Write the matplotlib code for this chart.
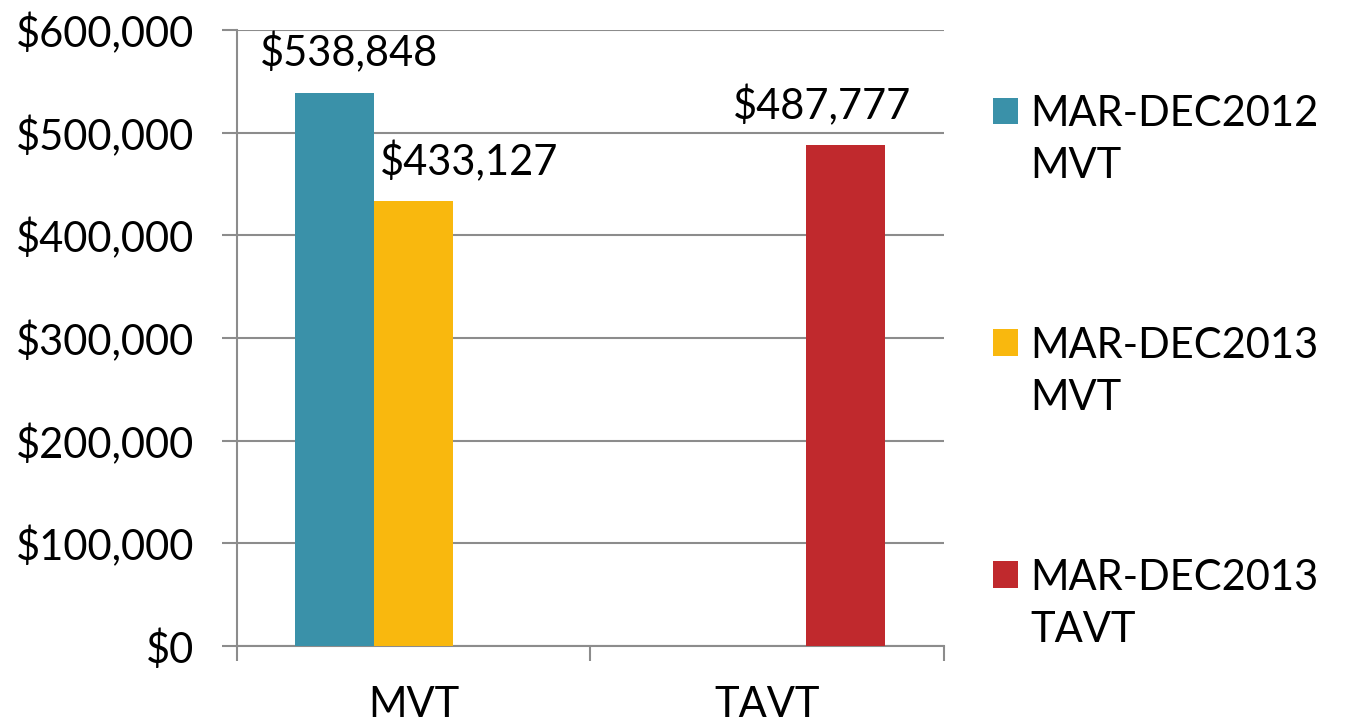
import numpy as np
import matplotlib
matplotlib.use('Agg')
import matplotlib.pyplot as plt
from matplotlib.patches import Patch, Rectangle
from matplotlib.legend_handler import HandlerPatch
from matplotlib.ticker import FuncFormatter

plt.rcParams['font.family'] = ['Lato', 'DejaVu Sans']

categories = ['MVT', 'TAVT']
series_names = ['MAR-DEC2012\nMVT', 'MAR-DEC2013\nMVT', 'MAR-DEC2013\nTAVT']
values_2012_mvt = [538848, np.nan]
values_2013_mvt = [433127, np.nan]
values_2013_tavt = [np.nan, 487777]
colors = ['#3A91A9', '#F9B80E', '#C0292D']
# label nudges (points) so labels do not overlap, like in the source
label_dx = [10, 40, -17]

fs = 30
gray = '#8C8C8C'
line_sp = 1.45

fig = plt.figure(figsize=(13.46, 7.23), dpi=100)
ax = fig.add_axes([0.176, 0.1065, 0.525, 0.852])

x = np.arange(len(categories))
w = 0.223
all_vals = [values_2012_mvt, values_2013_mvt, values_2013_tavt]
for i, vals in enumerate(all_vals):
    pos = x + (i - 1) * w
    ax.bar(pos, vals, width=w, color=colors[i], zorder=3)
    for p, v in zip(pos, vals):
        if np.isnan(v):
            continue
        ax.annotate(f'${v:,.0f}', xy=(p, v), xytext=(label_dx[i], 14),
                    textcoords='offset points', ha='center', va='bottom',
                    fontsize=fs, color='black')

ax.set_xlim(-0.5, 1.5)
ax.set_ylim(0, 600000)
ax.set_yticks(np.arange(0, 600001, 100000))
ax.yaxis.set_major_formatter(FuncFormatter(lambda v, _: f'${v:,.0f}'))
ax.grid(axis='y', color=gray, linewidth=1.5, zorder=0)

ax.set_xticks([-0.5, 0.5, 1.5])
ax.set_xticklabels([])
ax.set_xticks(x, minor=True)
ax.set_xticklabels(categories, minor=True)
ax.tick_params(axis='x', which='major', length=11, width=1.5, color=gray)
ax.tick_params(axis='x', which='minor', length=0, labelsize=fs, pad=29)
ax.tick_params(axis='y', length=11, width=1.5, color=gray, labelsize=fs, pad=20)

for s in ['top', 'right']:
    ax.spines[s].set_visible(False)
for s in ['left', 'bottom']:
    ax.spines[s].set_color(gray)
    ax.spines[s].set_linewidth(1.5)


def top_square(legend, orig_handle, xdescent, ydescent, width, height, fontsize):
    # put the square next to the first line of a two-line label
    shift = 0.5 * line_sp * fontsize
    return Rectangle((-xdescent, -ydescent + shift), width, height)


handles = [Patch(facecolor=c, edgecolor='none') for c in colors]
leg = fig.legend(handles, series_names, loc='upper left',
                 bbox_to_anchor=(0.725, 0.891), frameon=False, fontsize=fs,
                 handlelength=0.6, handleheight=0.6, handletextpad=0.3,
                 labelspacing=3.4, borderaxespad=0,
                 handler_map={Patch: HandlerPatch(patch_func=top_square)})
for t in leg.get_texts():
    t.set_linespacing(line_sp)

fig.savefig('out.png', dpi=100)
